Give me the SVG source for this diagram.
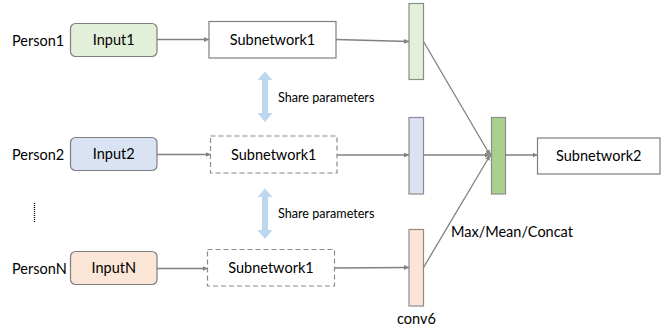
<svg xmlns="http://www.w3.org/2000/svg" width="668" height="333" viewBox="0 0 668 333">
<defs>
<marker id="ah" viewBox="0 0 10 10" refX="10" refY="5" markerWidth="5" markerHeight="5" markerUnits="userSpaceOnUse" orient="auto">
<path d="M0,0 L10,5 L0,10 z" fill="#808080"/>
</marker>
</defs>
<style>
text{font-family:Lato,"Liberation Sans",sans-serif;fill:#000;}
.lbl{font-size:14.5px;}
.sm{font-size:12.6px;}
.c{text-anchor:middle;}
.box{fill:#fff;stroke:#7f7f7f;stroke-width:1.2;}
.dash{fill:#fff;stroke:#8c8c8c;stroke-width:1.2;stroke-dasharray:5 3;}
.inp{stroke:#7f7f7f;stroke-width:1.2;}
.bar{stroke:#8c8c8c;stroke-width:1.2;}
.con{stroke:#808080;stroke-width:1.3;fill:none;marker-end:url(#ah);}
.share{fill:#bdd7ee;}
</style>
<rect width="668" height="333" fill="#fff"/>

<g id="person-labels">
<text class="lbl" x="12" y="45.5">Person1</text>
<text class="lbl" x="12" y="159.5">Person2</text>
<text class="lbl" x="12" y="273.5">PersonN</text>
<line x1="34.5" y1="203" x2="34.5" y2="223" stroke="#000" stroke-width="1.3" stroke-dasharray="1 1"/>
</g>

<g id="input1"><rect class="inp" x="70.5" y="23.5" width="86.5" height="33" rx="5" fill="#e2f0d9"/><text class="lbl c" x="113.75" y="45">Input1</text></g>
<g id="input2"><rect class="inp" x="70.5" y="137.5" width="86.5" height="33" rx="5" fill="#dae3f3"/><text class="lbl c" x="113.75" y="159">Input2</text></g>
<g id="inputN"><rect class="inp" x="70.5" y="251.5" width="86.5" height="33" rx="5" fill="#fbe5d6"/><text class="lbl c" x="113.75" y="273">InputN</text></g>

<g id="subnet1a"><rect class="box" x="209" y="21.5" width="127" height="36.5"/><text class="lbl c" x="272.5" y="45">Subnetwork1</text></g>
<g id="subnet1b"><rect class="dash" x="210.5" y="136" width="126.5" height="37"/><text class="lbl c" x="273.75" y="160">Subnetwork1</text></g>
<g id="subnet1c"><rect class="dash" x="207.5" y="249.5" width="127" height="36.5"/><text class="lbl c" x="271" y="273">Subnetwork1</text></g>

<g id="share1">
<path class="share" d="M265,71.5 L272.5,80 L268,80 L268,113 L272.5,113 L265,122 L257.5,113 L262,113 L262,80 L257.5,80 z"/>
<text class="sm" x="278" y="102">Share parameters</text>
</g>
<g id="share2">
<path class="share" d="M265,188.5 L272.5,197 L268,197 L268,230 L272.5,230 L265,239 L257.5,230 L262,230 L262,197 L257.5,197 z"/>
<text class="sm" x="278" y="218">Share parameters</text>
</g>

<g id="conv6-1"><rect class="bar" x="409" y="3.5" width="14.5" height="76" fill="#e2f0d9"/></g>
<g id="conv6-2"><rect class="bar" x="409" y="117.5" width="14.5" height="76.5" fill="#dae3f3"/></g>
<g id="conv6-N"><rect class="bar" x="409" y="229.5" width="14.5" height="76.5" fill="#fbe5d6"/><text class="lbl c" x="416.5" y="323.5">conv6</text></g>

<g id="fused"><rect class="bar" x="491.5" y="117.5" width="14" height="76.5" fill="#a9d18e"/></g>
<g id="subnet2"><rect class="box" x="537.5" y="138" width="122.5" height="36"/><text class="lbl c" x="598.75" y="161">Subnetwork2</text></g>

<g id="connectors">
<line class="con" x1="157" y1="39.5" x2="209" y2="39.5"/>
<line class="con" x1="157" y1="154.5" x2="210.5" y2="154.5"/>
<line class="con" x1="157" y1="268.5" x2="207.5" y2="268.5"/>
<line class="con" x1="336" y1="39.5" x2="409" y2="41.5"/>
<line class="con" x1="337" y1="155" x2="409" y2="155"/>
<line class="con" x1="334.5" y1="268" x2="409" y2="267.5"/>
<line class="con" x1="423.5" y1="41.5" x2="490" y2="155"/>
<line class="con" x1="423.5" y1="155" x2="490" y2="155"/>
<line class="con" x1="423.5" y1="267.5" x2="490" y2="155.5"/>
<circle cx="489.5" cy="155" r="2.5" fill="#8c8c8c"/>
<line class="con" x1="505.5" y1="155" x2="537.5" y2="155"/>
<text class="lbl" x="451" y="237">Max/Mean/Concat</text>
</g>
</svg>
